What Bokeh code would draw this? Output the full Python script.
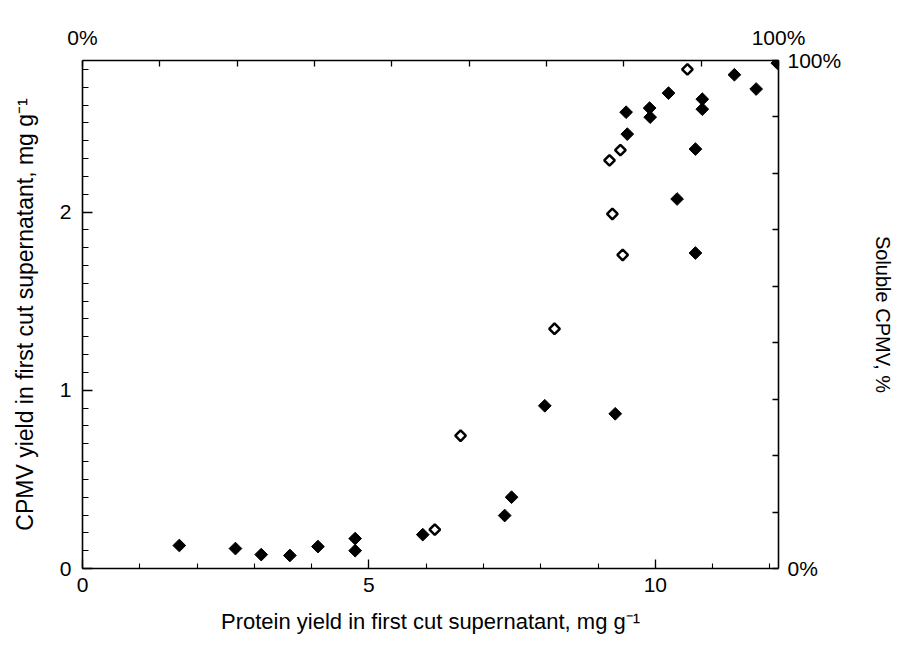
import numpy as np
from bokeh.plotting import figure
from bokeh.models import (Range1d, LinearAxis, SingleIntervalTicker, FixedTicker, Label)
from bokeh.embed import file_html
from bokeh.resources import INLINE

# Filled diamonds: protein yield (mg/g) vs CPMV yield (mg/g)
filled_x = [1.69, 2.67, 3.12, 3.62, 4.11, 4.76, 4.76, 5.94, 7.37, 7.49, 8.07, 9.30,
            9.49, 9.51, 9.90, 9.91, 10.23, 10.38, 10.70, 10.70, 10.82, 10.82, 11.38, 11.76, 12.13]
filled_y = [0.129, 0.112, 0.078, 0.073, 0.123, 0.168, 0.100, 0.190, 0.297, 0.400, 0.913, 0.868,
            2.560, 2.437, 2.583, 2.532, 2.667, 2.073, 2.353, 1.770, 2.633, 2.577, 2.770, 2.690, 2.835]
# Open diamonds
open_x = [6.15, 6.60, 8.24, 9.20, 9.25, 9.39, 9.43, 10.56]
open_y = [0.218, 0.745, 1.345, 2.290, 1.989, 2.347, 1.759, 2.800]

pct_ticks = [0, 1, 2, 3, 4, 5, 6, 7, 8, 9]
pct_labels = {0: "0%", 9: "100%"}

FONT = "Liberation Sans"
p = figure(width=899, height=655, output_backend="svg", toolbar_location=None,
           x_range=Range1d(0, 12.15), y_range=Range1d(0, 2.85),
           min_border_left=82, min_border_right=121, min_border_top=60, min_border_bottom=87,
           x_axis_location=None, y_axis_location=None)
p.frame_width = 696
p.frame_height = 508
p.outline_line_color = None
p.xgrid.visible = False
p.ygrid.visible = False
p.background_fill_color = "white"
p.border_fill_color = "white"

p.extra_x_ranges = {"px": Range1d(0, 9)}
p.extra_y_ranges = {"py": Range1d(0, 9)}

def style(ax, label_size="21px"):
    ax.axis_line_color = "black"
    ax.axis_line_width = 1.6
    ax.major_tick_line_color = "black"
    ax.minor_tick_line_color = "black"
    ax.major_tick_line_width = 1.3
    ax.minor_tick_line_width = 1.1
    ax.major_tick_out = 0
    ax.minor_tick_out = 0
    ax.major_label_text_font = FONT
    ax.major_label_text_font_size = label_size
    ax.major_label_text_color = "black"
    ax.axis_label_text_font = FONT
    ax.axis_label_text_font_style = "normal"
    ax.axis_label_text_font_size = "22px"
    ax.axis_label_text_color = "black"

xb = LinearAxis(ticker=SingleIntervalTicker(interval=5, num_minor_ticks=5),
                axis_label="Protein yield in first cut supernatant, mg g\u207b\u00b9")
style(xb)
xb.major_tick_in = 9
xb.minor_tick_in = 5
xb.major_label_standoff = 9
xb.axis_label_standoff = 14
p.add_layout(xb, "below")

yl = LinearAxis(ticker=SingleIntervalTicker(interval=1, num_minor_ticks=10),
                axis_label="CPMV yield in first cut supernatant, mg g\u207b\u00b9")
style(yl)
yl.axis_label_text_font_size = "23px"
yl.major_tick_in = 10
yl.minor_tick_in = 6
yl.major_label_standoff = 11
yl.axis_label_standoff = 19
p.add_layout(yl, "left")

xt = LinearAxis(x_range_name="px", ticker=FixedTicker(ticks=pct_ticks, minor_ticks=[]),
                major_label_overrides={t: pct_labels.get(t, "") for t in pct_ticks})
style(xt)
xt.major_tick_in = 6
xt.minor_tick_in = 0
xt.major_label_standoff = 12
p.add_layout(xt, "above")

yr = LinearAxis(y_range_name="py", ticker=FixedTicker(ticks=pct_ticks, minor_ticks=[]),
                major_label_overrides={t: pct_labels.get(t, "") for t in pct_ticks},
                axis_label="Soluble CPMV, %")
style(yr)
yr.axis_label_text_font_size = "20px"
yr.major_tick_in = 6
yr.minor_tick_in = 0
yr.major_label_standoff = 9
yr.axis_label_standoff = 28
p.add_layout(yr, "right")

p.scatter(filled_x, filled_y, marker="square", angle=np.pi / 4, size=9,
          fill_color="black", line_color="black", line_width=1)
p.scatter(open_x, open_y, marker="square", angle=np.pi / 4, size=7.5,
          fill_color="white", line_color="black", line_width=2.5)

p.add_layout(Label(x=6.12, y=3.036, text="Soluble protein, %", text_align="center",
                   text_baseline="middle", text_font=FONT, text_font_size="21px",
                   text_color="black"))

open("out.html", "w").write(file_html(p, INLINE))
